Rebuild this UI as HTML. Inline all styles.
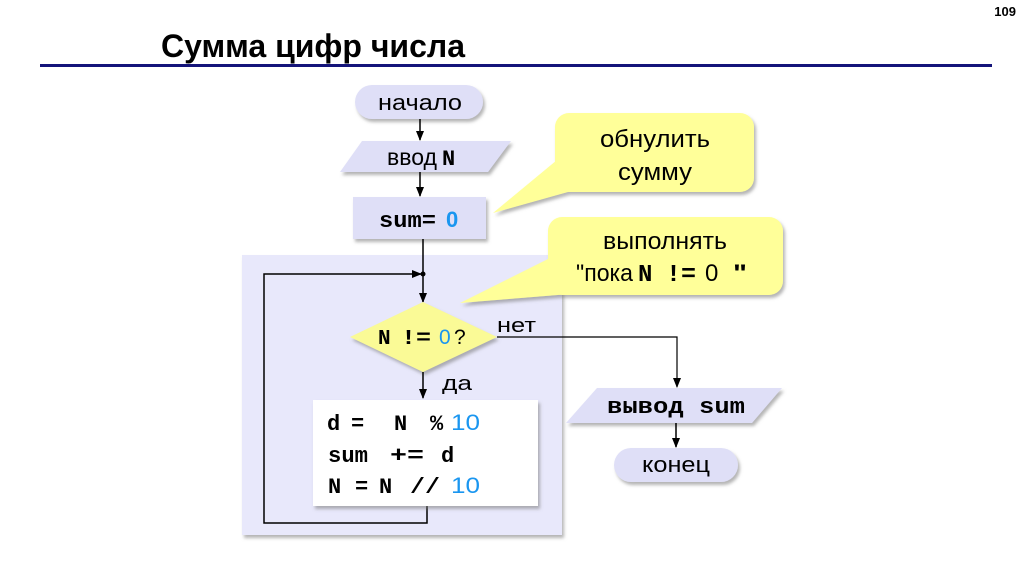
<!DOCTYPE html>
<html><head><meta charset="utf-8"><style>
html,body{margin:0;padding:0;background:#fff;}
svg{display:block;}
text{font-family:"Liberation Sans","DejaVu Sans",sans-serif;}
.m{font-family:"Liberation Mono","DejaVu Sans Mono",monospace;font-weight:bold;}
</style></head><body>
<svg width="1024" height="574" viewBox="0 0 1024 574" xmlns="http://www.w3.org/2000/svg">
<defs>
<filter id="sh" x="-10%" y="-10%" width="130%" height="140%">
<feDropShadow dx="2" dy="3" stdDeviation="1.5" flood-color="#777" flood-opacity="0.55"/>
</filter>
<marker id="ar" markerWidth="10" markerHeight="8" refX="9" refY="4" orient="auto" markerUnits="userSpaceOnUse">
<path d="M0,0 L10,4 L0,8 Z" fill="#000"/>
</marker>
</defs>
<rect width="1024" height="574" fill="#fff"/>
<text x="1016" y="16" font-size="13" font-weight="bold" text-anchor="end">109</text>
<text x="161" y="57" font-size="32" font-weight="bold" textLength="304" lengthAdjust="spacingAndGlyphs">Сумма цифр числа</text>
<rect x="40" y="64" width="952" height="3" fill="#14147a"/>

<!-- loop region -->
<rect x="242" y="255" width="320" height="280" fill="#e8e8fb" filter="url(#sh)"/>

<!-- callouts -->
<g filter="url(#sh)">
<path d="M493,213 L557,160 L575,190 Z" fill="#ffff99"/>
<rect x="555" y="113" width="199" height="79" rx="14" fill="#ffff99"/>
<path d="M460,303 L550,258 L570,294 Z" fill="#ffff99"/>
<rect x="548" y="217" width="235" height="78" rx="14" fill="#ffff99"/>
</g>
<text x="655" y="147" font-size="24" text-anchor="middle" textLength="110" lengthAdjust="spacingAndGlyphs">обнулить</text>
<text x="655" y="180" font-size="24" text-anchor="middle" textLength="74" lengthAdjust="spacingAndGlyphs">сумму</text>
<text x="665" y="249" font-size="24" text-anchor="middle" textLength="124" lengthAdjust="spacingAndGlyphs">выполнять</text>
<text x="576" y="281" font-size="24" textLength="57" lengthAdjust="spacingAndGlyphs">"пока</text>
<text x="638" y="281" font-size="24" class="m">N</text>
<text x="666" y="281" font-size="24" class="m" textLength="30" lengthAdjust="spacingAndGlyphs">!=</text>
<text x="705" y="281" font-size="24">0</text>
<text x="733" y="281" font-size="24" font-weight="bold" textLength="14" lengthAdjust="spacingAndGlyphs">"</text>

<!-- начало -->
<rect x="355" y="85" width="128" height="34" rx="17" fill="#dfdff7" filter="url(#sh)"/>
<text x="420" y="110" font-size="22" text-anchor="middle" textLength="84" lengthAdjust="spacingAndGlyphs">начало</text>
<line x1="420" y1="119" x2="420" y2="140" stroke="#000" stroke-width="1.5" marker-end="url(#ar)"/>

<!-- ввод N -->
<path d="M362,141 L511,141 L488,172 L340,172 Z" fill="#dfdff7" filter="url(#sh)"/>
<text x="387" y="165" font-size="23" textLength="50" lengthAdjust="spacingAndGlyphs">ввод</text>
<text x="442" y="165" font-size="22" class="m">N</text>
<line x1="420" y1="172" x2="420" y2="196" stroke="#000" stroke-width="1.5" marker-end="url(#ar)"/>

<!-- sum=0 -->
<rect x="353" y="197" width="133" height="42" fill="#dfdff7" filter="url(#sh)"/>
<text x="379" y="227" font-size="22" class="m" textLength="57" lengthAdjust="spacingAndGlyphs">sum=</text>
<text x="446" y="227" font-size="22" font-weight="bold" fill="#1a96f0">0</text>

<!-- main vertical -->
<line x1="423" y1="239" x2="423" y2="302" stroke="#000" stroke-width="1.5" marker-end="url(#ar)"/>
<!-- loop back -->
<polyline points="427,506 427,523 264,523 264,274 421,274" fill="none" stroke="#000" stroke-width="1.5" marker-end="url(#ar)"/>
<circle cx="423" cy="274" r="2.5" fill="#000"/>

<!-- diamond -->
<path d="M423,302 L497,337 L423,372 L350,337 Z" fill="#fafa96" filter="url(#sh)"/>
<text x="378" y="344" font-size="21" class="m">N</text>
<text x="401" y="344" font-size="21" class="m" textLength="30" lengthAdjust="spacingAndGlyphs">!=</text>
<text x="439" y="344" font-size="21" fill="#1a96f0">0</text>
<text x="454" y="344" font-size="21">?</text>
<text x="497" y="332" font-size="20" textLength="39" lengthAdjust="spacingAndGlyphs">нет</text>
<text x="442" y="390" font-size="20" textLength="30" lengthAdjust="spacingAndGlyphs">да</text>
<line x1="423" y1="372" x2="423" y2="398" stroke="#000" stroke-width="1.5" marker-end="url(#ar)"/>
<polyline points="497,337 677,337 677,387" fill="none" stroke="#000" stroke-width="1.2" marker-end="url(#ar)"/>

<!-- code box -->
<rect x="313" y="400" width="225" height="106" fill="#fff" filter="url(#sh)"/>
<g font-size="22">
<text x="327" y="430" class="m">d</text>
<text x="351" y="430" class="m">=</text>
<text x="394" y="430" class="m">N</text>
<text x="430" y="430" class="m">%</text>
<text x="451" y="430" fill="#1a96f0" textLength="29" lengthAdjust="spacingAndGlyphs">10</text>
<text x="328" y="462" class="m" textLength="40" lengthAdjust="spacingAndGlyphs">sum</text>
<text x="390" y="462" class="m" textLength="34" lengthAdjust="spacingAndGlyphs">+=</text>
<text x="441" y="462" class="m">d</text>
<text x="328" y="493" class="m">N</text>
<text x="355" y="493" class="m">=</text>
<text x="379" y="493" class="m">N</text>
<text x="410" y="493" class="m" textLength="30" lengthAdjust="spacingAndGlyphs">//</text>
<text x="451" y="493" fill="#1a96f0" textLength="29" lengthAdjust="spacingAndGlyphs">10</text>
</g>

<!-- вывод sum -->
<path d="M597,388 L782,388 L752,423 L566,423 Z" fill="#dfdff7" filter="url(#sh)"/>
<text x="607" y="413" font-size="22" class="m" textLength="138" lengthAdjust="spacingAndGlyphs">вывод sum</text>
<line x1="676" y1="423" x2="676" y2="447" stroke="#000" stroke-width="1.5" marker-end="url(#ar)"/>

<!-- конец -->
<rect x="614" y="448" width="124" height="34" rx="17" fill="#dfdff7" filter="url(#sh)"/>
<text x="676" y="472" font-size="22" text-anchor="middle" textLength="68" lengthAdjust="spacingAndGlyphs">конец</text>
</svg>
</body></html>
